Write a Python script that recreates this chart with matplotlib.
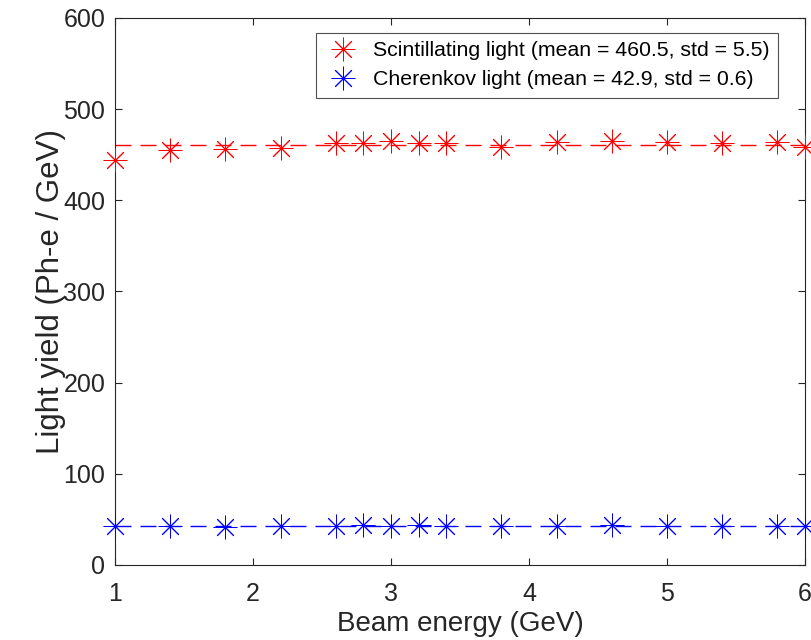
import matplotlib
matplotlib.use("Agg")
import matplotlib.pyplot as plt
import numpy as np

plt.rcParams['font.family'] = ['Liberation Sans', 'DejaVu Sans']

energy = [1.0, 1.4, 1.8, 2.2, 2.6, 2.8, 3.0, 3.2, 3.4, 3.8, 4.2, 4.6, 5.0, 5.4, 5.8, 6.0]
scint = [444, 455, 456, 457, 463, 463, 465, 463, 463, 458, 464, 465, 464, 463, 464, 459]
cher = [42.5, 43.2, 42.1, 43.0, 42.4, 43.5, 43.0, 43.4, 43.3, 43.0, 43.2, 43.5, 42.6, 42.9, 42.3, 42.6]
scint_mean, scint_std = 460.5, 5.5
cher_mean, cher_std = 42.9, 0.6

fig = plt.figure(figsize=(8.11, 6.4), dpi=100)
ax = fig.add_axes([0.1418, 0.1172, 0.8508, 0.8547])

ast = (8, 2, 0)
ax.plot([1, 6], [scint_mean, scint_mean], color='red', lw=1.0, dashes=(11.5, 6.5), zorder=2)
ax.plot([1, 6], [cher_mean, cher_mean], color='blue', lw=1.0, dashes=(11.5, 6.5), zorder=2)
ax.plot(energy, scint, ls='none', marker=ast, ms=17, mew=0.7, color='red', zorder=3,
        label=f'Scintillating light (mean = {scint_mean}, std = {scint_std})', clip_on=False)
ax.plot(energy, scint, ls='none', marker='o', ms=2.2, mew=0, color='red', zorder=4, clip_on=False)
ax.plot(energy, cher, ls='none', marker=ast, ms=17, mew=0.7, color='blue', zorder=3,
        label=f'Cherenkov light (mean = {cher_mean}, std = {cher_std})', clip_on=False)
ax.plot(energy, cher, ls='none', marker='o', ms=2.2, mew=0, color='blue', zorder=4, clip_on=False)

ax.set_xlim(1, 6)
ax.set_ylim(0, 600)
ax.set_xticks([1, 2, 3, 4, 5, 6])
ax.set_yticks([0, 100, 200, 300, 400, 500, 600])
ax.tick_params(direction='in', length=5, width=0.8, top=True, right=True,
               labelsize=18, colors='#262626', pad=7)
ax.tick_params(axis='x', pad=12)
for s in ax.spines.values():
    s.set_color('#262626')
    s.set_linewidth(0.8)
ax.set_xlabel('Beam energy (GeV)', fontsize=20, color='#262626', labelpad=4)
ax.set_ylabel('Light yield (Ph-e / GeV)', fontsize=22.5, color='#262626', labelpad=-2)

leg = ax.legend(loc='upper right', bbox_to_anchor=(0.961, 0.9726), borderaxespad=0,
                fontsize=15.3, frameon=True, fancybox=False, edgecolor='#262626',
                handlelength=1.75, handletextpad=0.55, borderpad=0.4, labelspacing=0.45)
leg.get_frame().set_linewidth(0.8)

fig.savefig('out.png', dpi=100)
